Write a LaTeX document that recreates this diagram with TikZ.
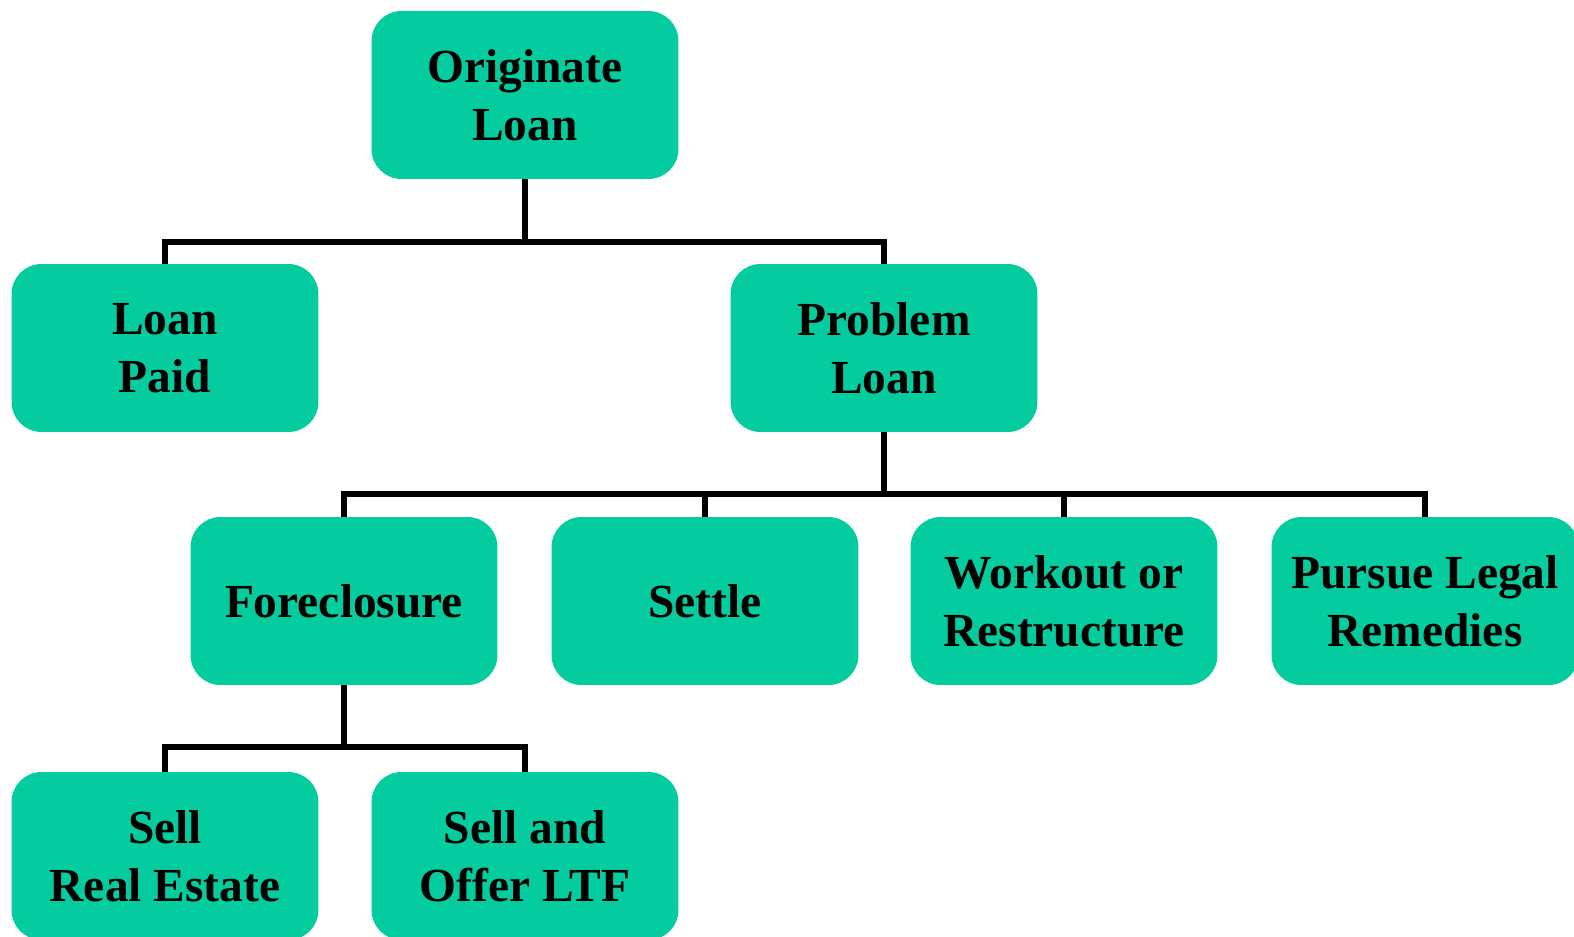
\documentclass[tikz,border=0pt]{standalone}
\usepackage{fontspec}
\setmainfont{Liberation Serif}
\definecolor{loangreen}{HTML}{05CC9E}
\begin{document}
\begin{tikzpicture}[x=0.02cm,y=-0.02cm,inner sep=0pt,outer sep=0pt,line width=3.2pt,
stepbox/.style={fill=loangreen,rounded corners=0.6cm,minimum width=6.14cm,minimum height=3.36cm,align=center,font=\fontsize{27}{33}\selectfont\bfseries}]

\useasboundingbox (0,0) rectangle (1574,936);

\draw (525,95) node[stepbox] (orig) {Originate\\Loan};
\draw (165,348) node[stepbox] (paid) {Loan\\Paid};
\draw (884,348) node[stepbox] (prob) {Problem\\Loan};
\draw (344,601) node[stepbox] (fore) {Foreclosure};
\draw (705,601) node[stepbox] (settle) {Settle};
\draw (1064,601) node[stepbox] (work) {Workout or\\Restructure};
\draw (1425,601) node[stepbox] (legal) {Pursue Legal\\Remedies};
\draw (165,856) node[stepbox] (sellre) {Sell\\Real Estate};
\draw (525,856) node[stepbox] (selltf) {Sell and\\Offer LTF};

\draw (orig.south) -- ++(0,63) -| (paid.north);
\draw (orig.south) -- ++(0,63) -| (prob.north);
\draw (prob.south) -- ++(0,62) -| (fore.north);
\draw (prob.south) -- ++(0,62) -| (settle.north);
\draw (prob.south) -- ++(0,62) -| (work.north);
\draw (prob.south) -- ++(0,62) -| (legal.north);
\draw (fore.south) -- ++(0,62) -| (sellre.north);
\draw (fore.south) -- ++(0,62) -| (selltf.north);
\end{tikzpicture}
\end{document}
